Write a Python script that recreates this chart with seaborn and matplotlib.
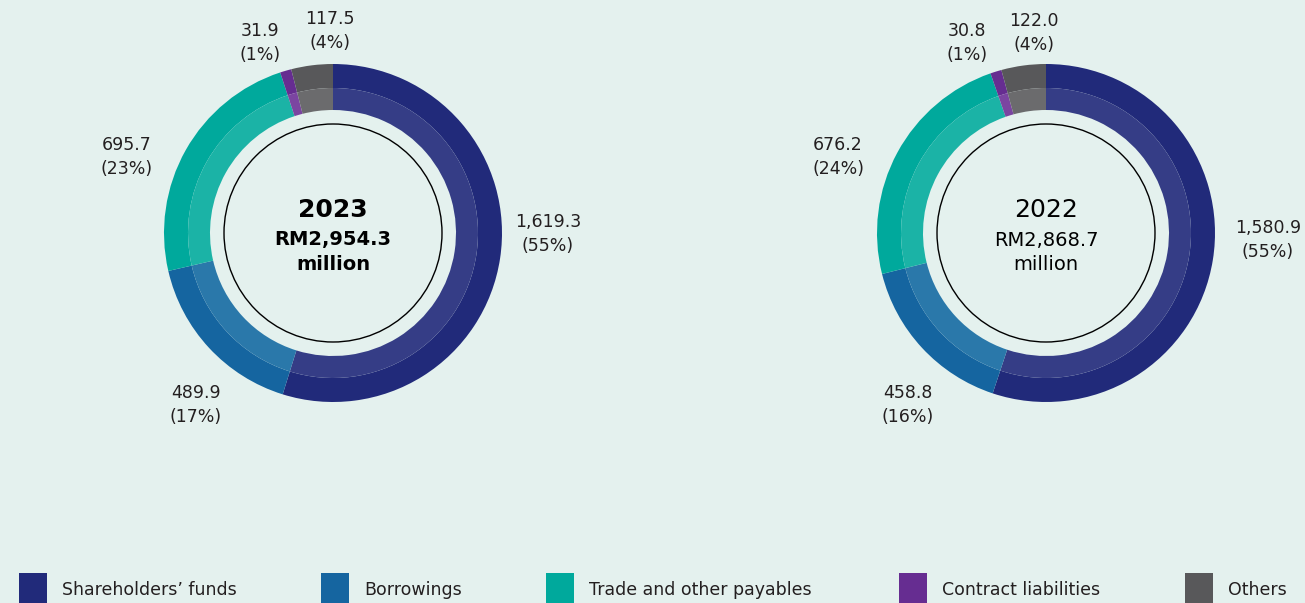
import matplotlib
matplotlib.use("Agg")
import matplotlib.pyplot as plt
import seaborn as sns
from matplotlib.patches import Circle, Rectangle

# ---- data ----
categories = ["Shareholders’ funds", "Borrowings", "Trade and other payables",
              "Contract liabilities", "Others"]
values_2023 = [1619.3, 489.9, 695.7, 31.9, 117.5]
pcts_2023 = [55, 17, 23, 1, 4]
values_2022 = [1580.9, 458.8, 676.2, 30.8, 122.0]
pcts_2022 = [55, 16, 24, 1, 4]
years = ["2023", "2022"]
totals = ["RM2,954.3", "RM2,868.7"]

# ---- style ----
sns.set_theme(style="white")
plt.rcParams['font.family'] = ['DejaVu Sans']
BG = "#e4f1ee"
outer_colors = sns.color_palette(["#212a7a", "#1565a0", "#00a99c", "#662d91", "#58585a"])
inner_colors = sns.color_palette(["#353d86", "#2a78aa", "#1bb3a6", "#7b45a1", "#6b6b6d"])
TXT = "#231f20"

W, H = 1305, 603
fig = plt.figure(figsize=(W / 100, H / 100), dpi=100, facecolor=BG)
ax = fig.add_axes([0, 0, 1, 1])
ax.set_facecolor(BG)

def Y(y):
    return H - y

# layout: donut centers and label anchors (pixel coords, y from top)
centers = [(333, 233), (1046, 233)]
label_pos = [
    [(548, 234), (196, 405), (127, 157), (260, 43), (330, 31)],
    [(1268, 240), (908, 405), (838, 157), (967, 43), (1034, 33)],
]
R_OUT, R_MID, R_IN, R_LINE = 169, 145, 123, 109

for i, (vals, pcts) in enumerate([(values_2023, pcts_2023), (values_2022, pcts_2022)]):
    cx, cy = centers[i]
    c = (cx, Y(cy))
    ax.pie(vals, colors=outer_colors, radius=R_OUT, center=c, startangle=90,
           counterclock=False, wedgeprops=dict(width=R_OUT - R_MID, linewidth=0))
    ax.pie(vals, colors=inner_colors, radius=R_MID, center=c, startangle=90,
           counterclock=False, wedgeprops=dict(width=R_MID - R_IN, linewidth=0))
    ax.add_patch(Circle(c, R_LINE, fill=False, lw=1.0, ec="black"))
    weight = "bold" if i == 0 else "normal"
    ax.text(cx, Y(cy - 23), years[i], ha="center", va="center", fontsize=18,
            fontweight=weight, color="black")
    ax.text(cx, Y(cy + 7), totals[i], ha="center", va="center", fontsize=14,
            fontweight=weight, color="black")
    ax.text(cx, Y(cy + 32), "million", ha="center", va="center", fontsize=14,
            fontweight=weight, color="black")
    for (lx, ly), v, p in zip(label_pos[i], vals, pcts):
        ax.text(lx, Y(ly), f"{v:,.1f}\n({p}%)", ha="center", va="center",
                fontsize=12.5, color=TXT, linespacing=1.45)

# legend (manual)
leg_x = [19, 321, 546, 899, 1185]
for x, col, name in zip(leg_x, outer_colors, categories):
    ax.add_patch(Rectangle((x, Y(603)), 28, 30, color=col, lw=0))
    ax.text(x + 43, Y(590), name, ha="left", va="center", fontsize=12.5, color=TXT)

ax.set_xlim(0, W)
ax.set_ylim(0, H)
ax.set_aspect("equal")
ax.axis("off")
fig.savefig("out.png", dpi=100, facecolor=BG)
